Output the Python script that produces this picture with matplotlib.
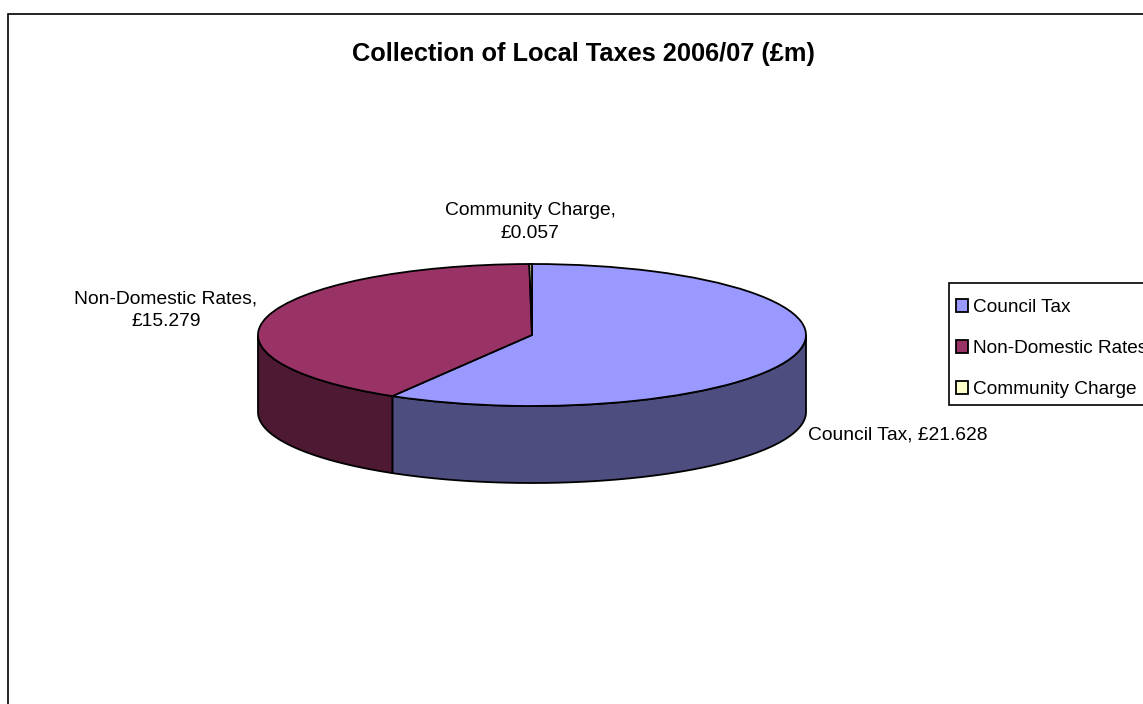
import numpy as np
import matplotlib
matplotlib.use("Agg")
import matplotlib.pyplot as plt
from matplotlib.patches import Polygon, Rectangle

plt.rcParams["font.family"] = ["Liberation Sans", "DejaVu Sans"]

title = "Collection of Local Taxes 2006/07 (£m)"
categories = ["Council Tax", "Non-Domestic Rates", "Community Charge"]
values = [21.628, 15.279, 0.057]
top_colors = ["#9999ff", "#993366", "#ffffcc"]
side_colors = ["#4d4d80", "#4d1933", "#80805f"]

W, H = 1143, 704
fig = plt.figure(figsize=(W / 100, H / 100), dpi=100)


def fx(px):
    return px / W


def fy(py):
    return 1 - py / H


# outer chart frame, runs off the right and bottom of the image
fig.add_artist(Rectangle((fx(7.5), fy(760)), 1.2, fy(14) - fy(760), transform=fig.transFigure,
                         fill=False, edgecolor="black", linewidth=1.2))

# pie squashed into an ellipse to look 3D
left, right, top, bottom = 258, 806, 264, 406
ax = fig.add_axes([fx(left), fy(bottom), (right - left) / W, (bottom - top) / H])
wedges, _ = ax.pie(values, colors=top_colors, startangle=90, counterclock=False,
                   wedgeprops={"edgecolor": "black", "linewidth": 1.3, "clip_on": False, "zorder": 3})
ax.set_aspect("auto")
ax.set_xlim(-1, 1)
ax.set_ylim(-1, 1)
ax.axis("off")

# side wall for the part of each slice facing the viewer
depth = 77 / ((bottom - top) / 2)
angle = 90.0
total = sum(values)
for v, c in zip(values, side_colors):
    a0 = angle
    a1 = angle - v / total * 360
    angle = a1
    lo = max(a1, -180)
    hi = min(a0, 0)
    if hi <= lo:
        continue
    t = np.radians(np.linspace(lo, hi, 120))
    x, y = np.cos(t), np.sin(t)
    pts = np.column_stack([np.r_[x, x[::-1]], np.r_[y, y[::-1] - depth]])
    ax.add_patch(Polygon(pts, closed=True, facecolor=c, edgecolor="black",
                         linewidth=1.3, clip_on=False, zorder=2))

# data labels
label_size = 13.85
fig.text(fx(530), fy(222), f"{categories[2]},\n£{values[2]:.3f}", ha="center", va="center",
         fontsize=label_size, linespacing=1.4)
fig.text(fx(166), fy(310), f"{categories[1]},\n£{values[1]:.3f}", ha="center", va="center",
         fontsize=label_size, linespacing=1.45)
fig.text(fx(808), fy(435), f"{categories[0]}, £{values[0]:.3f}", ha="left", va="center",
         fontsize=label_size)

fig.text(fx(583), fy(54), title, ha="center", va="center", fontsize=18.3, fontweight="bold")

# legend box is cut off by the right edge
fig.add_artist(Rectangle((fx(949), fy(405)), 0.3, fy(283) - fy(405), transform=fig.transFigure,
                         facecolor="white", edgecolor="black", linewidth=1.2))
leg = fig.legend(wedges, categories, loc="upper left", bbox_to_anchor=(fx(956), fy(299)),
                 fontsize=13.7, frameon=False, handlelength=0.64, handleheight=0.64,
                 handletextpad=0.26, labelspacing=1.26, borderaxespad=0, borderpad=0)

fig.savefig("out.png", dpi=100, facecolor="white")
